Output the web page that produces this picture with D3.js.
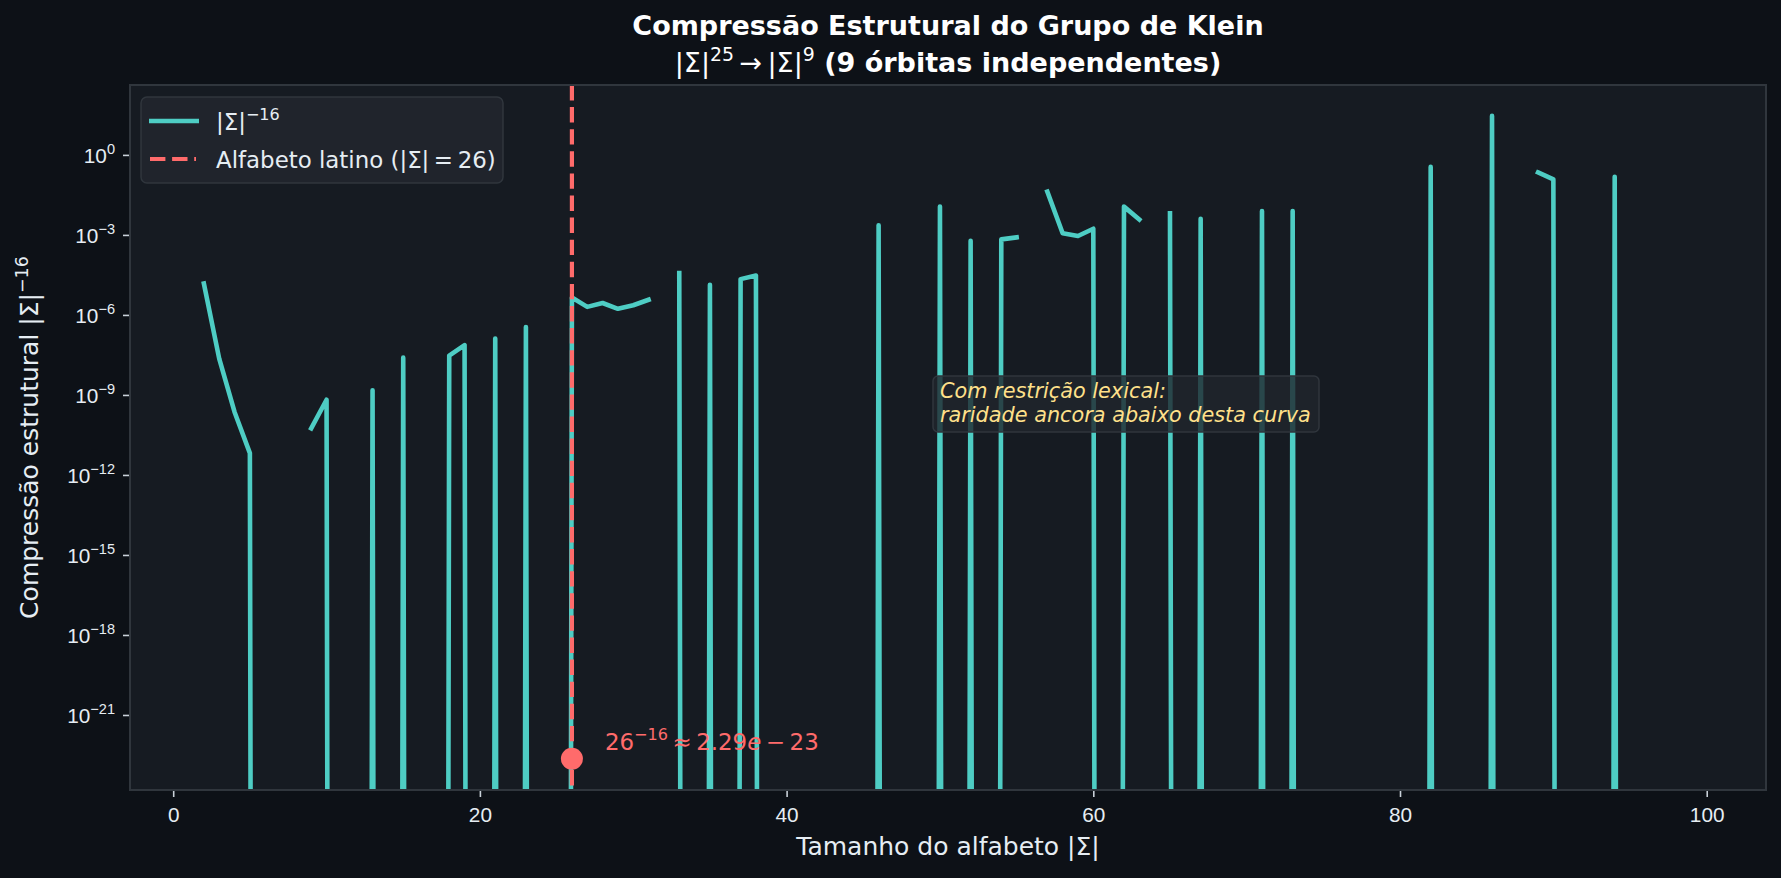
<!DOCTYPE html>
<html>
<head>
<meta charset="utf-8">
<script src="https://cdn.jsdelivr.net/npm/d3@7"></script>
<style>
  body { margin: 0; background: #0d1117; }
  svg { display: block; font-family: "DejaVu Sans", sans-serif; }
</style>
</head>
<body>
<div id="chart"></div>
<script>
// alphabet size |Σ|
var sigma = [2, 3, 4, 5, 6, 7, 8, 9, 10, 11, 12, 13, 14, 15, 16, 17, 18, 19, 20,
  21, 22, 23, 24, 25, 26, 27, 28, 29, 30, 31, 32, 33, 34, 35, 36, 37, 38, 39, 40,
  41, 42, 43, 44, 45, 46, 47, 48, 49, 50, 51, 52, 53, 54, 55, 56, 57, 58, 59, 60,
  61, 62, 63, 64, 65, 66, 67, 68, 69, 70, 71, 72, 73, 74, 75, 76, 77, 78, 79, 80,
  81, 82, 83, 84, 85, 86, 87, 88, 89, 90, 91, 92, 93, 94, 95, 96, 97, 98, 99]

// |Σ|^-16 as plotted: 0 = non-positive (clipped on log axis), null = NaN (gap)
var compression = [1.5e-5, 2.3e-8, 2.3e-10, 6.6e-12, 0, 0, null, 5.6e-11, 6.6e-10, 0,
  0, 1.5e-9, 0, 2.5e-8, 0, 0, 3.0e-8, 7.4e-8, 0,
  1.3e-7, 0, 3.5e-7, 0, 0, 4.5e-6, 2.0e-6, 2.8e-6, 1.7e-6, 2.3e-6, 3.7e-6, null, 3.7e-5, 0, 1.35e-5, 0, 2.2e-5, 3.0e-5, 0, 0,
  0, 0, 0, 0, 0, 2.3e-3, 0, 0, 0, 1.15e-2, 0, 6.0e-4, 0, 6.8e-4, 8.1e-4, null, 4.2e-2, 1.15e-3, 9.1e-4, 1.7e-3,
  0, 1.15e-2, 3.8e-3, null, 6.5e-3, 0, 4.0e-3, 0, 0, 0, 7.9e-3, 0, 7.9e-3, 0, 0, 0, 0, 0, 0, 0,
  0, 0.355, 0, 0, 0, 29, 0, null, 0.22, 0.12, 0, 0, 0, 0.15, 0, 0, 0, 0, 0]

var latinSize = 26
var latinValue = 2.29e-23

var xTicks = [0, 20, 40, 60, 80, 100]
var yTickExps = [0, -3, -6, -9, -12, -15, -18, -21]

var W = 1781, H = 878
var plotL = 130, plotR = 1766, plotT = 85, plotB = 790

var teal = '#4ecdc4'
var red = '#ff6b6b'
var textColor = '#e6edf3'

var data = sigma.map(function(s, i) { return { s: s, v: compression[i] } })

var x = d3.scaleLinear()
  .domain([-2.817, 103.866])
  .range([plotL, plotR])

var y = d3.scaleLog()
  .domain([Math.pow(10, -23.813), Math.pow(10, 2.621)])
  .range([plotB, plotT])

var svg = d3.select('#chart')
  .append('svg')
  .attr('width', W)
  .attr('height', H)

svg.append('rect')
  .attr('width', W)
  .attr('height', H)
  .attr('fill', '#0d1117')

svg.append('rect')
  .attr('x', plotL)
  .attr('y', plotT)
  .attr('width', plotR - plotL)
  .attr('height', plotB - plotT)
  .attr('fill', '#161b22')

svg.append('clipPath')
  .attr('id', 'plot-clip')
  .append('rect')
  .attr('x', plotL)
  .attr('y', plotT)
  .attr('width', plotR - plotL)
  .attr('height', plotB - plotT)

// text with a mathtext-like superscript
function addSup(text, base, sup, fs) {
  text.append('tspan').text(base)
  text.append('tspan')
    .attr('baseline-shift', (0.42 * fs) + 'px')
    .attr('font-size', 0.7 * fs)
    .text(sup)
}

// x axis
var xAxis = d3.axisBottom(x)
  .tickValues(xTicks)
  .tickSize(7)
  .tickFormat('')

var gx = svg.append('g')
  .attr('transform', 'translate(0,' + plotB + ')')
  .call(xAxis)
gx.select('.domain').remove()
gx.selectAll('.tick line')
  .attr('stroke', '#c9d1d9')
  .attr('stroke-width', 1.6)

gx.selectAll('.tick')
  .append('text')
  .attr('y', 32)
  .attr('fill', textColor)
  .attr('font-size', 20.8)
  .attr('text-anchor', 'middle')
  .text(function(d) { return d })

// y axis
var yAxis = d3.axisLeft(y)
  .tickValues(yTickExps.map(function(e) { return Math.pow(10, e) }))
  .tickSize(7)
  .tickFormat('')

var gy = svg.append('g')
  .attr('transform', 'translate(' + plotL + ',0)')
  .call(yAxis)
gy.select('.domain').remove()
gy.selectAll('.tick line')
  .attr('stroke', '#c9d1d9')
  .attr('stroke-width', 1.6)

gy.selectAll('.tick').each(function(d, i) {
  var t = d3.select(this)
    .append('text')
    .attr('x', -15)
    .attr('y', 8)
    .attr('fill', textColor)
    .attr('font-size', 20.8)
    .attr('text-anchor', 'end')
  var e = yTickExps[i]
  addSup(t, '10', e === 0 ? '0' : '\u2212' + Math.abs(e), 20.8)
})

// data line
var line = d3.line()
  .defined(function(d) { return d.v !== null })
  .x(function(d) { return x(d.s) })
  .y(function(d) { return y(d.v > 0 ? d.v : 1e-300) })

var plot = svg.append('g')
  .attr('clip-path', 'url(#plot-clip)')

plot.append('path')
  .datum(data)
  .attr('d', line)
  .attr('fill', 'none')
  .attr('stroke', teal)
  .attr('stroke-width', 4.6)
  .attr('stroke-linejoin', 'round')
  .attr('stroke-linecap', 'square')

// latin alphabet marker
plot.append('line')
  .attr('x1', x(latinSize))
  .attr('x2', x(latinSize))
  .attr('y1', plotT)
  .attr('y2', plotB)
  .attr('stroke', red)
  .attr('stroke-width', 4.2)
  .attr('stroke-dasharray', '15.4,6.7')

plot.append('circle')
  .attr('cx', x(latinSize))
  .attr('cy', y(latinValue))
  .attr('r', 11)
  .attr('fill', red)

var ann = svg.append('text')
  .attr('x', x(latinSize) + 33)
  .attr('y', y(latinValue) - 9)
  .attr('fill', red)
  .attr('font-size', 22.9)
addSup(ann, '26', '\u221216', 22.9)
ann.append('tspan').text('\u2009\u2248\u20092.29')
ann.append('tspan').attr('font-style', 'italic').text('e')
ann.append('tspan').text('\u2009\u2212\u200923')

// frame
svg.append('rect')
  .attr('x', plotL)
  .attr('y', plotT)
  .attr('width', plotR - plotL)
  .attr('height', plotB - plotT)
  .attr('fill', 'none')
  .attr('stroke', '#30363d')
  .attr('stroke-width', 2)

// text box
svg.append('rect')
  .attr('x', 933)
  .attr('y', 376)
  .attr('width', 386)
  .attr('height', 56)
  .attr('rx', 5)
  .attr('fill', '#21262d')
  .attr('fill-opacity', 0.8)
  .attr('stroke', '#30363d')
  .attr('stroke-width', 1.5)

var boxText = svg.append('text')
  .attr('fill', '#ffe08a')
  .attr('font-size', 20.8)
  .attr('font-style', 'italic')
boxText.append('tspan').attr('x', 940).attr('y', 398).text('Com restrição lexical:')
boxText.append('tspan').attr('x', 940).attr('y', 422).text('raridade ancora abaixo desta curva')

// legend
var lg = svg.append('g')
lg.append('rect')
  .attr('x', 141)
  .attr('y', 97)
  .attr('width', 362)
  .attr('height', 86)
  .attr('rx', 6)
  .attr('fill', '#21262d')
  .attr('fill-opacity', 0.9)
  .attr('stroke', '#30363d')
  .attr('stroke-width', 1.5)

lg.append('line')
  .attr('x1', 149).attr('x2', 199)
  .attr('y1', 121).attr('y2', 121)
  .attr('stroke', teal)
  .attr('stroke-width', 4.6)

lg.append('line')
  .attr('x1', 150).attr('x2', 196)
  .attr('y1', 159).attr('y2', 159)
  .attr('stroke', red)
  .attr('stroke-width', 4.2)
  .attr('stroke-dasharray', '15.4,6.7')

var l1 = lg.append('text')
  .attr('x', 216)
  .attr('y', 130)
  .attr('fill', textColor)
  .attr('font-size', 22.9)
addSup(l1, '|\u03a3|', '\u221216', 22.9)

lg.append('text')
  .attr('x', 216)
  .attr('y', 168)
  .attr('fill', textColor)
  .attr('font-size', 22.9)
  .text('Alfabeto latino (|\u03a3|\u2009=\u200926)')

// axis labels
svg.append('text')
  .attr('x', (plotL + plotR) / 2)
  .attr('y', 855)
  .attr('fill', textColor)
  .attr('font-size', 25)
  .attr('text-anchor', 'middle')
  .text('Tamanho do alfabeto |\u03a3|')

var yl = svg.append('text')
  .attr('transform', 'translate(38,' + (plotT + plotB) / 2 + ') rotate(-90)')
  .attr('fill', textColor)
  .attr('font-size', 25)
  .attr('text-anchor', 'middle')
addSup(yl, 'Compressão estrutural |\u03a3|', '\u221216', 25)

// title
svg.append('text')
  .attr('x', (plotL + plotR) / 2)
  .attr('y', 35)
  .attr('fill', '#ffffff')
  .attr('font-size', 27)
  .attr('font-weight', 'bold')
  .attr('text-anchor', 'middle')
  .text('Compressão Estrutural do Grupo de Klein')

var t2 = svg.append('text')
  .attr('x', (plotL + plotR) / 2)
  .attr('y', 72)
  .attr('fill', '#ffffff')
  .attr('font-size', 27)
  .attr('text-anchor', 'middle')
addSup(t2, '|\u03a3|', '25', 27)
t2.append('tspan').text('\u2009\u2192\u2009')
addSup(t2, '|\u03a3|', '9', 27)
t2.append('tspan').attr('font-weight', 'bold').text(' (9 órbitas independentes)')
</script>
</body>
</html>
